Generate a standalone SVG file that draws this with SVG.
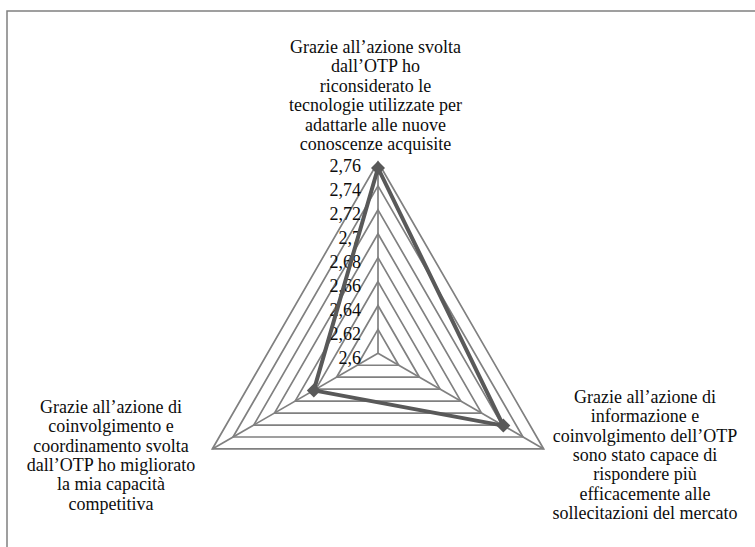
<svg xmlns="http://www.w3.org/2000/svg" width="755" height="547" viewBox="0 0 755 547">
  <defs>
    <style>
      .frame { fill: none; stroke: #808080; stroke-width: 1.5; }
      .grid { fill: none; stroke: #808080; stroke-width: 1.7; }
      .series { fill: none; stroke: #595959; stroke-width: 4; stroke-linejoin: round; }
      .pt { fill: #595959; }
      text { font-family: "Liberation Serif", "Times New Roman", serif; font-size: 18px; fill: #0d0d0d; }
      .lbl { text-anchor: middle; }
      .tick { text-anchor: end; }
    </style>
    <path id="diamond" d="M0,-7 L7,0 L0,7 L-7,0 Z"/>
  </defs>

  <rect width="755" height="547" fill="#ffffff"/>

  <!-- chart area border (open on right and bottom) -->
  <path class="frame" d="M7,547 V11 H755"/>

  <!-- radar grid: 8 concentric triangles around centre (378,353.3) -->
  <g id="grid">
    <polygon class="grid" points="378,329.39 398.71,365.26 357.29,365.26"/>
    <polygon class="grid" points="378,305.47 419.42,377.21 336.58,377.21"/>
    <polygon class="grid" points="378,281.56 440.13,389.17 315.87,389.17"/>
    <polygon class="grid" points="378,257.65 460.83,401.13 295.17,401.13"/>
    <polygon class="grid" points="378,233.74 481.54,413.08 274.46,413.08"/>
    <polygon class="grid" points="378,209.82 502.25,425.04 253.75,425.04"/>
    <polygon class="grid" points="378,185.91 522.96,436.99 233.04,436.99"/>
    <polygon class="grid" points="378,162 543.67,448.95 212.33,448.95"/>
    <!-- spokes -->
    <line class="grid" x1="378" y1="353.3" x2="378" y2="162"/>
    <line class="grid" x1="378" y1="353.3" x2="543.67" y2="448.95"/>
    <line class="grid" x1="378" y1="353.3" x2="212.33" y2="448.95"/>
  </g>

  <!-- value axis labels -->
  <g id="axis-labels">
    <text class="tick" x="361" y="172">2,76</text>
    <text class="tick" x="361" y="196">2,74</text>
    <text class="tick" x="361" y="220">2,72</text>
    <text class="tick" x="361" y="244">2,7</text>
    <text class="tick" x="361" y="267.5">2,68</text>
    <text class="tick" x="361" y="291.5">2,66</text>
    <text class="tick" x="361" y="315.5">2,64</text>
    <text class="tick" x="361" y="339.5">2,62</text>
    <text class="tick" x="361" y="363.5">2,6</text>
  </g>

  <!-- data series -->
  <g id="series">
    <polygon class="series" points="378,168 503.3,425.6 313.8,390.4"/>
    <use href="#diamond" class="pt" x="378" y="168"/>
    <use href="#diamond" class="pt" x="503.3" y="425.6"/>
    <use href="#diamond" class="pt" x="313.8" y="390.4"/>
  </g>

  <!-- category labels -->
  <g id="label-top">
    <text class="lbl" x="375.5" y="52.5">Grazie all’azione svolta</text>
    <text class="lbl" x="375.5" y="72">dall’OTP ho</text>
    <text class="lbl" x="375.5" y="91.5">riconsiderato le</text>
    <text class="lbl" x="375.5" y="111">tecnologie utilizzate per</text>
    <text class="lbl" x="375.5" y="130.5">adattarle alle nuove</text>
    <text class="lbl" x="375.5" y="150">conoscenze acquisite</text>
  </g>

  <g id="label-right">
    <text class="lbl" x="645" y="402.5">Grazie all’azione di</text>
    <text class="lbl" x="645" y="422">informazione e</text>
    <text class="lbl" x="645" y="441.5">coinvolgimento dell’OTP</text>
    <text class="lbl" x="645" y="461">sono stato capace di</text>
    <text class="lbl" x="645" y="480">rispondere più</text>
    <text class="lbl" x="645" y="499.5">efficacemente alle</text>
    <text class="lbl" x="645" y="519">sollecitazioni del mercato</text>
  </g>

  <g id="label-left">
    <text class="lbl" x="111" y="412.5">Grazie all’azione di</text>
    <text class="lbl" x="111" y="432">coinvolgimento e</text>
    <text class="lbl" x="111" y="451.5">coordinamento svolta</text>
    <text class="lbl" x="111" y="470.5">dall’OTP ho migliorato</text>
    <text class="lbl" x="111" y="490">la mia capacità</text>
    <text class="lbl" x="111" y="509.5">competitiva</text>
  </g>
</svg>
